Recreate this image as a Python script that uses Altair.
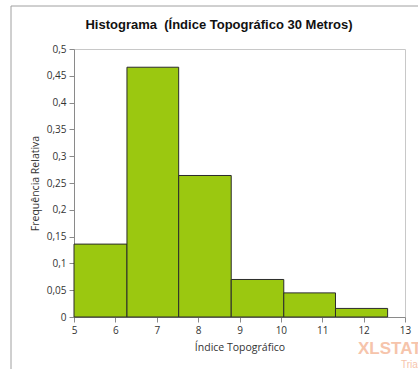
import altair as alt
import pandas as pd

bin_start = [5.0, 6.28, 7.53, 8.80, 10.07, 11.32]
bin_end = [6.28, 7.53, 8.80, 10.07, 11.32, 12.58]
rel_freq = [0.136, 0.466, 0.264, 0.070, 0.045, 0.016]

x_ticks = [5, 6, 7, 8, 9, 10, 11, 12, 13]
y_ticks = [0, 0.05, 0.1, 0.15, 0.2, 0.25, 0.3, 0.35, 0.4, 0.45, 0.5]

title_text = ["Histograma\u00a0\u00a0(Índice Topográfico 30 Metros)"]

df = pd.DataFrame({"start": bin_start, "end": bin_end, "freq": rel_freq})

W, H = 331, 268
PAD_L, PAD_T = 74, 49

frame = alt.Chart(pd.DataFrame({"a": [0]})).mark_rect(
    fill=None, stroke="#a0a0a0", strokeWidth=1
).encode(
    x=alt.value(11 - PAD_L), x2=alt.value(440 - PAD_L),
    y=alt.value(6 - PAD_T), y2=alt.value(400 - PAD_T),
)

bars = alt.Chart(df).mark_rect(
    color="#9bc810", stroke="#2b2b2b", strokeWidth=1
).encode(
    x=alt.X("start:Q",
            scale=alt.Scale(domain=[5, 13], nice=False, zero=False),
            axis=alt.Axis(values=x_ticks, title="Índice Topográfico",
                          grid=False, labelFlush=False)),
    x2="end:Q",
    y=alt.Y("freq:Q",
            scale=alt.Scale(domain=[0, 0.5], nice=False),
            axis=alt.Axis(values=y_ticks, title="Frequência Relativa",
                          grid=False,
                          labelExpr="replace(format(datum.value, '.2~f'), '.', ',')")),
    y2=alt.datum(0),
)

title = alt.Chart(pd.DataFrame({"t": title_text})).mark_text(
    font="Liberation Sans", fontSize=13, fontWeight="bold", color="#111111",
    align="center", baseline="middle"
).encode(text="t:N", x=alt.value(219 - PAD_L), y=alt.value(25 - PAD_T))

wm1 = alt.Chart(pd.DataFrame({"t": ["XLSTAT"]})).mark_text(
    font="Liberation Sans", fontSize=17, fontWeight="bold", color="#f6c4ab",
    align="left", baseline="middle"
).encode(text="t:N", x=alt.value(358 - PAD_L), y=alt.value(349 - PAD_T))

wm2 = alt.Chart(pd.DataFrame({"t": ["Trial"]})).mark_text(
    font="Liberation Sans", fontSize=10, color="#f6c4ab",
    align="left", baseline="middle"
).encode(text="t:N", x=alt.value(401 - PAD_L), y=alt.value(365 - PAD_T))

chart = alt.layer(frame, bars, title, wm1, wm2).properties(
    width=W, height=H,
    padding={"left": PAD_L, "top": PAD_T, "right": 418 - PAD_L - W, "bottom": 369 - PAD_T - H},
    autosize=alt.AutoSizeParams(type="none"),
    background="white",
).configure_view(
    stroke="#c8c8c8", strokeWidth=1
).configure_axis(
    domainColor="#8a8a8a", tickColor="#8a8a8a", tickSize=5,
    labelFont="Open Sans", labelFontSize=10, labelColor="#333333",
    titleFont="Open Sans", titleFontSize=10.5, titleFontWeight="normal",
    titleColor="#333333", labelPadding=3,
).configure_axisX(
    titlePadding=7,
).configure_axisY(
    titlePadding=6,
)

chart.save("out.html", embed_options={"renderer": "svg", "actions": False})
